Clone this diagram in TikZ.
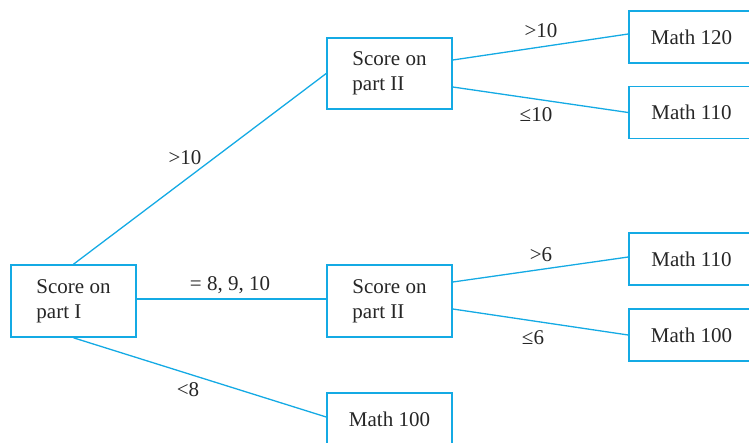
\documentclass[tikz,border=0pt]{standalone}
\usepackage{fontspec}
\setmainfont{Liberation Serif}
\usetikzlibrary{calc}
\definecolor{tcyan}{RGB}{20,170,228}
\begin{document}
\begin{tikzpicture}[x=1pt,y=-1pt,
  box/.style={draw=tcyan,line width=1.6pt,minimum width=125pt,inner sep=0pt,text=black!85,font=\fontsize{21}{25}\selectfont},
  qbox/.style={box,minimum height=72pt,align=left},
  mbox/.style={box,minimum height=52pt},
  conn/.style={draw=tcyan,line width=1.3pt},
  lab/.style={text=black!85,font=\fontsize{21}{25}\selectfont,inner sep=0pt}]
\useasboundingbox (0,0) rectangle (749,442);
\clip (0,0) rectangle (749,442);
\node[qbox] (p1) at (73.5,301) {Score on\\part I};
\node[qbox,minimum height=71pt] (p2a) at (389.5,73.5) {Score on\\part II};
\node[qbox] (p2b) at (389.5,301) {Score on\\part II};
\node[mbox] (m100b) at (389.5,419) {Math 100};
\node[mbox] (m120) at (691.5,37) {Math 120};
\node[mbox] (m110a) at (691.5,112.5) {Math 110};
\node[mbox] (m110b) at (691.5,259) {Math 110};
\node[mbox] (m100r) at (691.5,335) {Math 100};
\draw[conn] (p1.north) -- (p2a.west);
\draw[conn] ([yshift=2pt]p1.east) -- ([yshift=2pt]p1.east -| p2b.west);
\draw[conn] (p1.south) -- ([yshift=2pt]m100b.west);
\draw[conn] ([yshift=13.5pt]p2a.east) -- ([yshift=3pt]m120.west);
\draw[conn] ([yshift=-13.5pt]p2a.east) -- (m110a.west);
\draw[conn] ([yshift=19pt]p2b.east) -- ([yshift=2pt]m110b.west);
\draw[conn] ([yshift=-8pt]p2b.east) -- (m100r.west);
\node[lab] (l1) at (185,158) {>10};
\node[lab] (l2) at (230,285) {= 8, 9, 10};
\node[lab] (l3) at (188,390) {<8};
\node[lab] (l4) at (541,31) {>10};
\node[lab] (l5) at (536,115) {≤10};
\node[lab] (l6) at (541,255) {>6};
\node[lab] (l7) at (533,338) {≤6};
\end{tikzpicture}
\end{document}
